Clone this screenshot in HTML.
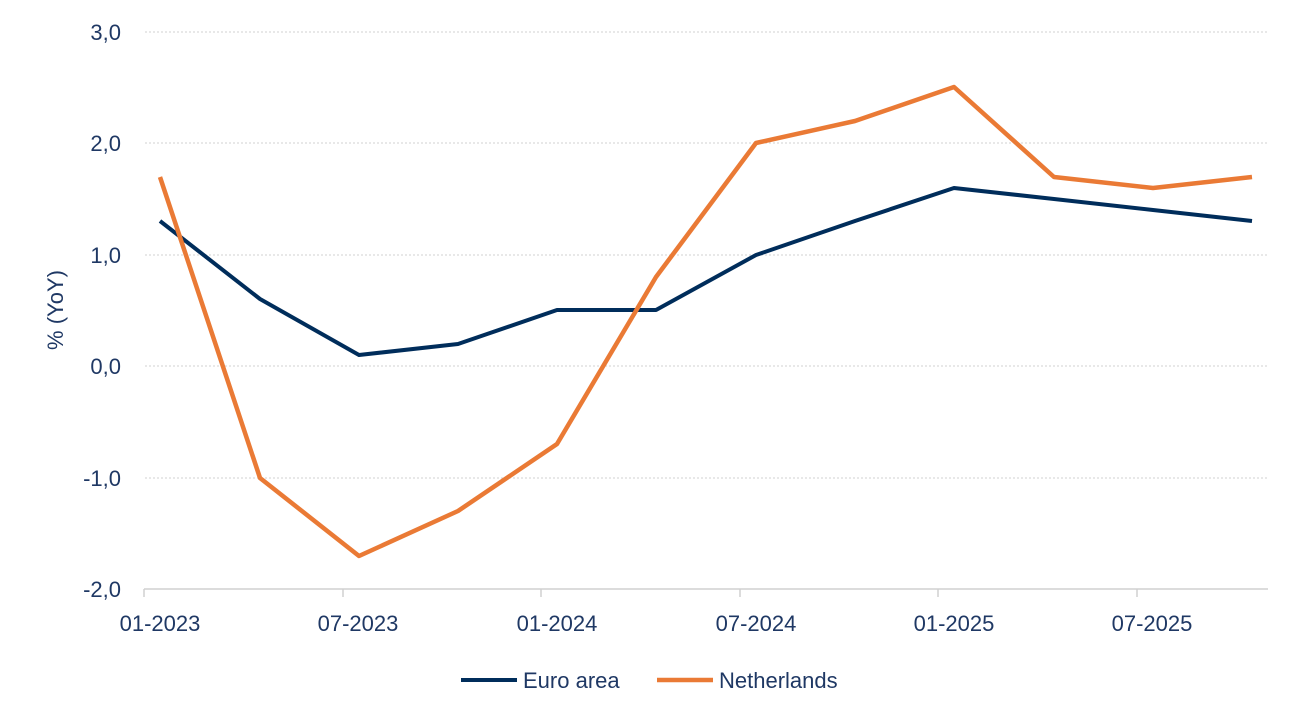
<!DOCTYPE html>
<html><head><style>body{margin:0;background:#fff}svg{display:block}text{font-family:"Liberation Sans",sans-serif;fill:#1f3864;font-size:22px}</style></head><body>
<svg width="1300" height="722" xmlns="http://www.w3.org/2000/svg">
<g stroke="#d0d0d0" stroke-width="1" stroke-dasharray="2,2">
<line x1="145" y1="32" x2="1268" y2="32"/><line x1="145" y1="143" x2="1268" y2="143"/><line x1="145" y1="255" x2="1268" y2="255"/><line x1="145" y1="366" x2="1268" y2="366"/><line x1="145" y1="478" x2="1268" y2="478"/>
</g>
<g stroke="#d0d0d0" stroke-width="1.5">
<line x1="144" y1="589" x2="1268" y2="589"/>
<line x1="144" y1="589" x2="144" y2="597"/><line x1="343" y1="589" x2="343" y2="597"/><line x1="541" y1="589" x2="541" y2="597"/><line x1="740" y1="589" x2="740" y2="597"/><line x1="938" y1="589" x2="938" y2="597"/><line x1="1137" y1="589" x2="1137" y2="597"/>
</g>
<g text-anchor="end">
<text x="121" y="40">3,0</text><text x="121" y="151">2,0</text><text x="121" y="263">1,0</text><text x="121" y="374">0,0</text><text x="121" y="486">-1,0</text><text x="121" y="597">-2,0</text>
</g>
<g text-anchor="middle">
<text x="160" y="631">01-2023</text><text x="358" y="631">07-2023</text><text x="557" y="631">01-2024</text><text x="756" y="631">07-2024</text><text x="954" y="631">01-2025</text><text x="1152" y="631">07-2025</text>
<text transform="translate(63,310) rotate(-90)">% (YoY)</text>
</g>
<polyline fill="none" stroke="#002d5b" stroke-width="4" stroke-linejoin="round" points="160,221 260,299 359,355 458,344 557,310 656,310 756,255 855,221 954,188 1054,199 1153,210 1252,221"/>
<polyline fill="none" stroke="#ea7a35" stroke-width="4.5" stroke-linejoin="round" points="160,177 260,478 359,556 458,511 557,444 656,277 756,143 855,121 954,87 1054,177 1153,188 1252,177"/>
<line x1="461" y1="680" x2="517" y2="680" stroke="#002d5b" stroke-width="4"/>
<text x="523" y="688">Euro area</text>
<line x1="657" y1="680" x2="713" y2="680" stroke="#ea7a35" stroke-width="4.5"/>
<text x="719" y="688">Netherlands</text>
</svg>
</body></html>
